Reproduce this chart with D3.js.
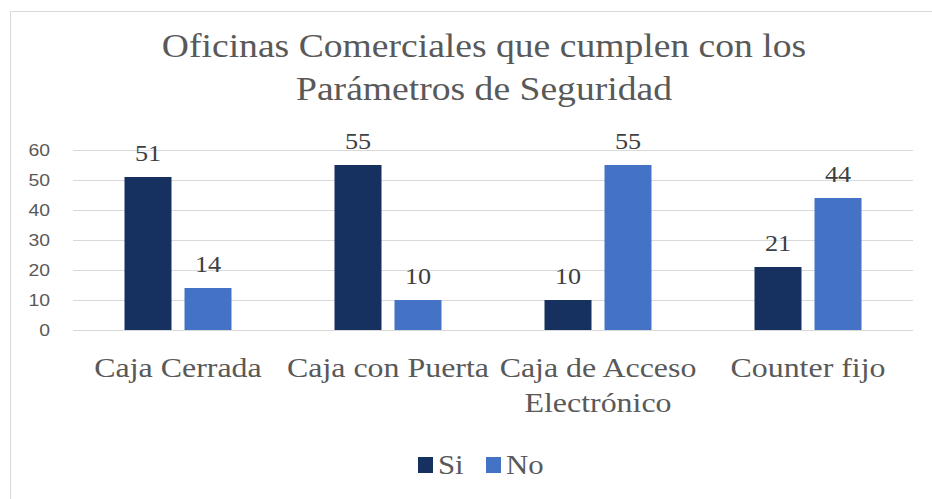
<!DOCTYPE html>
<html>
<head>
<meta charset="utf-8">
<script src="https://cdn.jsdelivr.net/npm/d3@7"></script>
<style>
  body { margin: 0; background: #fff; }
  svg { display: block; }
</style>
</head>
<body>
<svg id="chart"></svg>
<script>
var categories = [['Caja Cerrada'], ['Caja con Puerta'], ['Caja de Acceso', 'Electrónico'], ['Counter fijo']]
var series = ['Si', 'No']
var siValues = [51, 55, 10, 21]
var noValues = [14, 10, 55, 44]
var yTicks = [0, 10, 20, 30, 40, 50, 60]
var colors = ['#16305f', '#4472c4']

var W = 932, H = 499
var sx = 1.14  // reference text is a bit wider than tall
var svg = d3.select('#chart').attr('width', W).attr('height', H)

// frame
svg.append('rect')
  .attr('x', 10.5).attr('y', 11.5).attr('width', W + 10).attr('height', H)
  .attr('fill', '#fff').attr('stroke', '#d9d9d9')

var serif = '"Liberation Serif", "Times New Roman", serif'
var sans = '"Liberation Sans", Arial, sans-serif'

var x = d3.scaleBand().domain(d3.range(categories.length)).range([73, 913])
var y = d3.scaleLinear().domain([0, 60]).range([330, 150])
var barW = 47, gap = 13

// stretched text placed at (px, py)
function label(parent, px, py){
  return parent.append('g').attr('transform', `translate(${px},${py}) scale(${sx},1)`).append('text')
}

// gridlines
svg.append('g').selectAll('line').data(yTicks).join('line')
  .attr('x1', 73).attr('x2', 913)
  .attr('y1', d => Math.round(y(d)) + .5).attr('y2', d => Math.round(y(d)) + .5)
  .attr('stroke', '#d9d9d9').attr('stroke-width', 1)

// y axis labels
var yg = svg.append('g')
yTicks.forEach(t => {
  label(yg, 50, y(t)).attr('dy', '0.35em').attr('text-anchor', 'end')
    .attr('font-family', sans).attr('font-size', 17).attr('fill', '#595959')
    .text(t)
})

var data = []
categories.forEach((c, i) => {
  data.push({i, s: 0, v: siValues[i]})
  data.push({i, s: 1, v: noValues[i]})
})

function bx(d){
  var c = x(d.i) + x.bandwidth()/2
  return d.s == 0 ? c - gap/2 - barW : c + gap/2
}

svg.append('g').selectAll('rect').data(data).join('rect')
  .attr('x', bx).attr('width', barW)
  .attr('y', d => y(d.v)).attr('height', d => y(0) - y(d.v))
  .attr('fill', d => colors[d.s])

var lg = svg.append('g')
data.forEach(d => {
  label(lg, bx(d) + barW/2, y(d.v) - 16).attr('text-anchor', 'middle')
    .attr('font-family', serif).attr('font-size', 23).attr('fill', '#404040')
    .text(d.v)
})

// category labels
var cg = svg.append('g')
categories.forEach((lines, i) => {
  var t = label(cg, x(i) + x.bandwidth()/2, 377).attr('text-anchor', 'middle')
    .attr('font-family', serif).attr('font-size', 28).attr('fill', '#595959')
  lines.forEach((s, j) => t.append('tspan').attr('x', 0).attr('y', j * 35).text(s))
})

// title
var tt = label(svg, 484, 57).attr('text-anchor', 'middle')
  .attr('font-family', serif).attr('font-size', 33).attr('fill', '#595959')
;['Oficinas Comerciales que cumplen con los', 'Parámetros de Seguridad'].forEach((s, j) => {
  tt.append('tspan').attr('x', 0).attr('y', j * 43).text(s)
})

// legend
var leg = svg.append('g')
series.forEach((s, i) => {
  var lx = 418 + i * 68
  leg.append('rect').attr('x', lx).attr('y', 457).attr('width', 15).attr('height', 16).attr('fill', colors[i])
  label(leg, lx + 20, 474)
    .attr('font-family', serif).attr('font-size', 27).attr('fill', '#595959')
    .text(s)
})
</script>
</body>
</html>
